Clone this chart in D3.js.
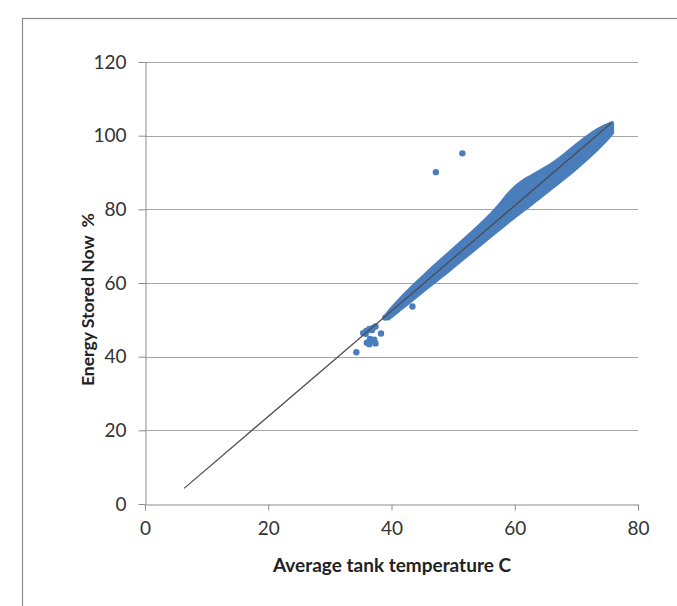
<!DOCTYPE html>
<html>
<head>
<meta charset="utf-8">
<script src="https://cdn.jsdelivr.net/npm/d3@7"></script>
<style>
  html, body { margin: 0; padding: 0; background: #fff; }
  svg { display: block; font-family: Lato, "Open Sans", sans-serif; }
</style>
</head>
<body>
<svg id="chart" width="677" height="606"></svg>
<script>
// axis ticks
const xTicks = [0, 20, 40, 60, 80];
const yTicks = [0, 20, 40, 60, 80, 100, 120];

const bandX     = [39.5, 41.0, 43.0, 45.0, 47.0, 49.0, 51.0, 53.0, 55.0, 56.5, 58.0, 59.0, 60.0, 61.0, 62.0, 63.5, 65.0, 66.5, 68.0, 70.0, 72.0, 73.5, 74.8, 75.8];
const bandLower = [50.4, 52.4, 55.0, 57.8, 60.4, 63.1, 65.8, 68.6, 71.3, 73.4, 75.4, 76.8, 78.1, 79.4, 80.6, 82.6, 84.6, 86.6, 88.5, 91.3, 94.2, 96.6, 98.8, 100.8];
const bandUpper = [52.0, 54.8, 58.3, 61.4, 64.6, 67.5, 70.5, 73.5, 76.6, 79.1, 82.0, 84.1, 85.9, 87.2, 88.3, 89.7, 91.1, 92.7, 94.6, 97.4, 100.0, 101.6, 102.8, 103.4];

// sparse readings at the low end and the outliers
const ptX = [34.3, 35.4, 35.9, 36.4, 37.0, 37.4, 36.8, 35.8, 36.0, 36.4, 36.8, 37.2, 36.5, 37.4, 38.3, 39.0, 39.4, 40.2, 40.8, 43.4, 47.2, 51.5];
const ptY = [41.2, 46.4, 47.0, 47.5, 47.8, 48.2, 47.2, 46.2, 43.8, 43.4, 44.2, 44.6, 44.8, 43.6, 46.3, 50.6, 51.2, 51.9, 52.8, 53.6, 90.1, 95.2];

// linear trendline
const trendSlope = 1.431;
const trendIntercept = -4.84;
const trendRange = [6.35, 75.7];

const blue = "#4a7dbb";

const svg = d3.select("#chart");

// outer chart frame
svg.append("rect")
    .attr("x", 22.5)
    .attr("y", 18.5)
    .attr("width", 900)
    .attr("height", 900)
    .attr("fill", "none")
    .attr("stroke", "#8c8c8c")
    .attr("stroke-width", 1.2);

const x = d3.scaleLinear().domain([0, 80]).range([145, 638]);
const y = d3.scaleLinear().domain([0, 120]).range([504, 62]);

// horizontal gridlines
svg.append("g")
    .selectAll("line")
    .data(yTicks.filter((d) => d > 0))
    .join("line")
    .attr("x1", x(0))
    .attr("x2", x(80))
    .attr("y1", (d) => Math.round(y(d)) + 0.5)
    .attr("y2", (d) => Math.round(y(d)) + 0.5)
    .attr("stroke", "#a6a6a6")
    .attr("stroke-width", 1);

// axes
const yAxis = svg.append("g")
    .attr("transform", `translate(${Math.round(x(0)) + 0.5},0)`)
    .call(d3.axisLeft(y).tickValues(yTicks).tickSize(7).tickPadding(12).tickSizeOuter(0));
const xAxis = svg.append("g")
    .attr("transform", `translate(0,${Math.round(y(0)) + 0.5})`)
    .call(d3.axisBottom(x).tickValues(xTicks).tickSize(6).tickPadding(11).tickSizeOuter(0));

[yAxis, xAxis].forEach((g) => {
    g.select(".domain").attr("stroke", "#8c8c8c");
    g.selectAll(".tick line").attr("stroke", "#8c8c8c");
    g.selectAll(".tick text")
        .attr("fill", "#333")
        .attr("font-size", "19px")
        .attr("font-family", "Lato, sans-serif");
});

// dense cloud
const band = bandX.map((d, i) => ({ x: d, lo: bandLower[i], hi: bandUpper[i] }));
svg.append("path")
    .datum(band)
    .attr("d", d3.area()
        .x((d) => x(d.x))
        .y0((d) => y(d.lo))
        .y1((d) => y(d.hi))
        .curve(d3.curveBasis))
    .attr("fill", blue)
    .attr("stroke", blue)
    .attr("stroke-width", 4)
    .attr("stroke-linejoin", "round");

// sparse points
svg.append("g")
    .selectAll("circle")
    .data(ptX.map((d, i) => ({ x: d, y: ptY[i] })))
    .join("circle")
    .attr("cx", (d) => x(d.x))
    .attr("cy", (d) => y(d.y))
    .attr("r", 3.2)
    .attr("fill", blue);

// trendline
svg.append("line")
    .attr("x1", x(trendRange[0]))
    .attr("y1", y(trendSlope * trendRange[0] + trendIntercept))
    .attr("x2", x(trendRange[1]))
    .attr("y2", y(trendSlope * trendRange[1] + trendIntercept))
    .attr("stroke", "#4a4a4a")
    .attr("stroke-width", 1.2);

// axis titles
svg.append("text")
    .attr("x", 392)
    .attr("y", 572)
    .attr("text-anchor", "middle")
    .attr("font-size", "19px")
    .attr("font-weight", "bold")
    .attr("fill", "#222")
    .text("Average tank temperature C");

svg.append("text")
    .attr("transform", "translate(94,386) rotate(-90)")
    .attr("text-anchor", "start")
    .attr("font-size", "17.5px")
    .attr("font-weight", "bold")
    .attr("fill", "#222")
    .attr("xml:space", "preserve")
    .style("white-space", "pre")
    .text("Energy Stored Now  %");
</script>
</body>
</html>
